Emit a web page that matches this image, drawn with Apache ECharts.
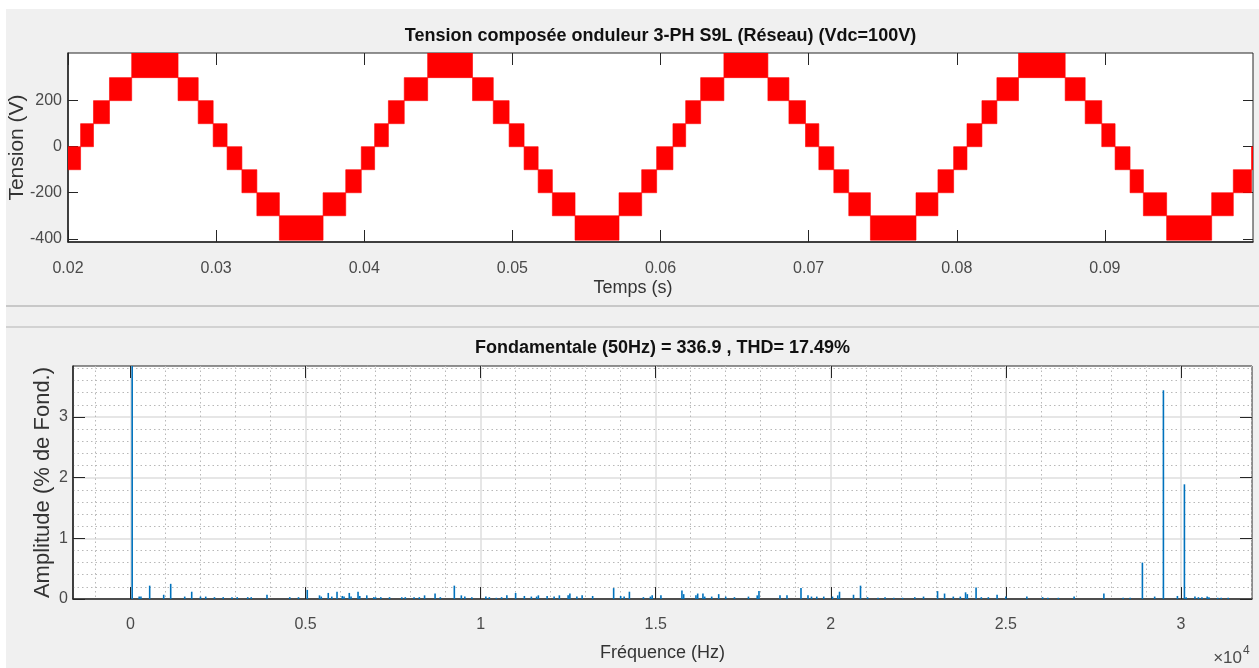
<!DOCTYPE html>
<html>
<head>
<meta charset="utf-8">
<script src="https://cdn.jsdelivr.net/npm/echarts@6/dist/echarts.min.js"></script>
<style>
html,body{margin:0;padding:0;background:#ffffff;}
#bg{position:absolute;left:6px;top:9px;width:1253px;height:659px;background:#f0f0f0;}
#chart{position:absolute;left:0;top:0;width:1259px;height:668px;}
</style>
</head>
<body>
<div id="bg"></div>
<div id="chart"></div>
<script>
// ---------- Top panel: line-to-line voltage, staircase bands (start, end, low level, high level) ----------
const stepStart = [0.0200,0.02085,0.02172,0.0228,0.0243,0.02743,0.02879,0.0298,0.03074,0.03174,
  0.03275,0.03427,0.03722,0.03875,0.0398,0.0407,0.04163,0.0427,0.04428,0.04731,
  0.04871,0.04978,0.05079,0.05174,0.0527,0.05423,0.0572,0.05873,0.05974,0.06084,
  0.0617,0.06271,0.06428,0.06725,0.06867,0.06979,0.07069,0.0717,0.07271,0.07417,
  0.07725,0.07873,0.07979,0.08069,0.0817,0.08271,0.08417,0.08732,0.08867,0.08979,
  0.09069,0.0917,0.0926,0.09417,0.09721,0.09867,0.0999];
const stepEnd = [0.02085,0.02172,0.0228,0.0243,0.02743,0.02879,0.0298,0.03074,0.03174,0.03275,
  0.03427,0.03722,0.03875,0.0398,0.0407,0.04163,0.0427,0.04428,0.04731,0.04871,
  0.04978,0.05079,0.05174,0.0527,0.05423,0.0572,0.05873,0.05974,0.06084,0.0617,
  0.06271,0.06428,0.06725,0.06867,0.06979,0.07069,0.0717,0.07271,0.07417,0.07725,
  0.07873,0.07979,0.08069,0.0817,0.08271,0.08417,0.08732,0.08867,0.08979,0.09069,
  0.0917,0.0926,0.09417,0.09721,0.09867,0.0999,0.1];
const stepLow = [-100,0,100,200,300,200,100,0,-100,-200,-300,-406,
  -300,-200,-100,0,100,200,300,200,100,0,-100,-200,
  -300,-406,-300,-200,-100,0,100,200,300,200,100,0,
  -100,-200,-300,-406,-300,-200,-100,0,100,200,300,200,
  100,0,-100,-200,-300,-406,-300,-200,-100];
const stepHigh = [0,100,200,300,407,300,200,100,0,-100,-200,-300,
  -200,-100,0,100,200,300,407,300,200,100,0,-100,
  -200,-300,-200,-100,0,100,200,300,407,300,200,100,
  0,-100,-200,-300,-200,-100,0,100,200,300,407,300,
  200,100,0,-100,-200,-300,-200,-100,0];

const timeTicks = [0.02,0.03,0.04,0.05,0.06,0.07,0.08,0.09];
const timeTickLabels = ['0.02','0.03','0.04','0.05','0.06','0.07','0.08','0.09'];
const tensionTicks = [-400,-200,0,200];
const tensionTickLabels = ['-400','-200','0','200'];

// ---------- Bottom panel: harmonic spectrum (Hz, % of fundamental) ----------
const spectrumFreq = [50,250,300,550,950,1150,1550,1750,2000,2150,2400,2650,2900,3050,3350,3450,3900,4550,4800,
  5050,5400,5450,5650,5750,5900,6050,6100,6250,6300,6500,6550,6750,6950,7000,7150,7400,7750,7850,8100,8250,8400,
  8700,8850,9250,9450,9550,9750,10150,10250,10450,10600,10750,11000,11250,11450,11600,11650,11900,12100,12250,
  12500,12550,12750,12900,13200,13800,14000,14100,14250,14650,14850,14900,15150,15750,15800,16150,16200,16350,
  16400,16600,16800,17000,17250,17650,17900,17950,18550,18750,19150,19350,19450,19600,19800,20050,20200,20250,
  20650,20850,21050,21350,21550,21800,22050,22400,22650,23050,23250,23500,23700,23850,23900,24150,24300,24500,
  24750,25000,25600,26050,26200,26500,26950,27800,28350,28550,28900,29250,29500,29900,30100,30150,30400,30500,
  30600,30750,30800,31050,31150,31350];
const spectrumAmp = [100,0.04,0.04,0.22,0.07,0.25,0.04,0.12,0.04,0.04,0.03,0.03,0.03,0.03,0.03,0.03,0.07,0.03,0.03,
  0.15,0.06,0.04,0.10,0.04,0.12,0.05,0.04,0.10,0.04,0.12,0.05,0.06,0.03,0.03,0.03,0.03,0.03,0.03,0.03,0.03,0.06,
  0.09,0.03,0.22,0.06,0.04,0.03,0.04,0.03,0.02,0.03,0.06,0.10,0.05,0.04,0.04,0.06,0.05,0.04,0.06,
  0.06,0.09,0.04,0.06,0.05,0.18,0.05,0.04,0.12,0.03,0.04,0.06,0.06,0.14,0.08,0.06,0.09,0.09,
  0.04,0.04,0.08,0.04,0.03,0.04,0.06,0.13,0.06,0.06,0.18,0.06,0.04,0.04,0.04,0.04,0.06,0.12,
  0.07,0.22,0.03,0.02,0.03,0.02,0.02,0.03,0.04,0.13,0.09,0.04,0.04,0.11,0.08,0.19,0.03,0.03,
  0.07,0.04,0.04,0.03,0.02,0.02,0.04,0.09,0.02,0.02,0.60,0.04,3.44,0.05,1.89,0.03,0.04,0.03,
  0.03,0.04,0.03,0.02,0.02,0.02];

const freqTicks = [0,5000,10000,15000,20000,25000,30000];
const freqTickLabels = ['0','0.5','1','1.5','2','2.5','3'];
const freqMinorTicks = [-1000,1000,2000,3000,4000,6000,7000,8000,9000,11000,12000,13000,14000,16000,17000,18000,19000,
  21000,22000,23000,24000,26000,27000,28000,29000,31000,32000];
const ampTicks = [0,1,2,3];
const ampTickLabels = ['0','1','2','3'];
const ampMinorTicks = [0.2,0.4,0.6,0.8,1.2,1.4,1.6,1.8,2.2,2.4,2.6,2.8,3.2,3.4,3.6,3.8];

// ---------- chart ----------
const FONT = "'Liberation Sans', Arial, Helvetica, sans-serif";
const AX = '#262626';
const LBL = '#4a4a4a';

function lookup(ticks, labels) {
  return function (v) {
    let best = 0, d = Infinity;
    for (let i = 0; i < ticks.length; i++) {
      const dd = Math.abs(ticks[i] - v);
      if (dd < d) { d = dd; best = i; }
    }
    return labels[best];
  };
}

const waveData = stepStart.map((s, i) => [s, stepEnd[i], stepLow[i], stepHigh[i]]);
const specData = spectrumFreq.map((f, i) => [f, spectrumAmp[i]]);

function baseAxis(extra) {
  return Object.assign({
    type: 'value',
    axisLine: { show: false, onZero: false },
    splitLine: { show: false },
    axisLabel: { show: false },
    axisTick: { show: false },
    nameMoveOverlap: false
  }, extra);
}

const option = {
  animation: false,
  backgroundColor: 'transparent',
  title: [
    {
      text: 'Tension composée onduleur 3-PH S9L (Réseau) (Vdc=100V)',
      left: 660.5, top: 27, textAlign: 'center', padding: 0,
      textStyle: { fontFamily: FONT, fontSize: 18, fontWeight: 'bold', color: '#111' }
    },
    {
      text: 'Fondamentale (50Hz) = 336.9 , THD= 17.49%',
      left: 662.5, top: 339, textAlign: 'center', padding: 0,
      textStyle: { fontFamily: FONT, fontSize: 18, fontWeight: 'bold', color: '#111' }
    }
  ],
  grid: [
    { left: 68, right: 6, top: 53, bottom: 426, show: true, backgroundColor: '#ffffff',
      borderColor: AX, borderWidth: 1, outerBoundsMode: 'none', containLabel: false },
    { left: 73, right: 7, top: 366, bottom: 69, show: true, backgroundColor: '#ffffff',
      borderColor: AX, borderWidth: 1, outerBoundsMode: 'none', containLabel: false }
  ],
  xAxis: [
    baseAxis({
      gridIndex: 0, min: 0.02, max: 0.1, position: 'bottom',
      axisLine: { show: true, onZero: false, lineStyle: { color: AX, width: 1.5 } },
      axisTick: { show: true, inside: true, length: 12, customValues: timeTicks, lineStyle: { color: AX, width: 1 } },
      axisLabel: { show: true, customValues: timeTicks, formatter: lookup(timeTicks, timeTickLabels),
        margin: 19, color: LBL, fontSize: 16, fontFamily: FONT },
      name: 'Temps (s)', nameLocation: 'middle', nameGap: 37,
      nameTextStyle: { fontFamily: FONT, fontSize: 18, color: '#333', padding: [0, 55, 0, 0] }
    }),
    baseAxis({
      gridIndex: 0, min: 0.02, max: 0.1, position: 'top',
      axisTick: { show: true, inside: true, length: 12, customValues: timeTicks, lineStyle: { color: AX, width: 1 } }
    }),
    baseAxis({
      gridIndex: 1, min: -1640, max: 32030, position: 'bottom',
      axisLine: { show: true, onZero: false, lineStyle: { color: AX, width: 1.5 } },
      axisTick: { show: true, inside: true, length: 12, customValues: freqTicks, lineStyle: { color: AX, width: 1 } },
      axisLabel: { show: true, customValues: freqTicks, formatter: lookup(freqTicks, freqTickLabels),
        margin: 18, color: LBL, fontSize: 16, fontFamily: FONT },
      splitLine: { show: true, lineStyle: { color: '#dedede', width: 1.5, type: 'solid' } },
      name: 'Fréquence (Hz)', nameLocation: 'middle', nameGap: 45,
      nameTextStyle: { fontFamily: FONT, fontSize: 18, color: '#333' }
    }),
    baseAxis({
      gridIndex: 1, min: -1640, max: 32030, position: 'top',
      axisTick: { show: true, inside: true, length: 12, customValues: freqTicks, lineStyle: { color: AX, width: 1 } }
    }),
    baseAxis({
      gridIndex: 1, min: -1640, max: 32030, position: 'top',
      axisTick: { show: false, customValues: freqMinorTicks },
      splitLine: { show: true, lineStyle: { color: '#b8b8b8', width: 1, type: [1.5, 3] } }
    })
  ],
  yAxis: [
    baseAxis({
      gridIndex: 0, min: -414, max: 407, position: 'left',
      axisLine: { show: true, onZero: false, lineStyle: { color: AX, width: 1.5 } },
      axisTick: { show: true, inside: true, length: 10, customValues: tensionTicks, lineStyle: { color: AX, width: 1 } },
      axisLabel: { show: true, customValues: tensionTicks, formatter: lookup(tensionTicks, tensionTickLabels),
        margin: 6, color: LBL, fontSize: 16, fontFamily: FONT },
      name: 'Tension (V)', nameLocation: 'middle', nameGap: 40, nameRotate: 90,
      nameTextStyle: { fontFamily: FONT, fontSize: 21, color: '#333' }
    }),
    baseAxis({
      gridIndex: 0, min: -414, max: 407, position: 'right',
      axisTick: { show: true, inside: true, length: 10, customValues: tensionTicks, lineStyle: { color: AX, width: 1 } }
    }),
    baseAxis({
      gridIndex: 1, min: 0, max: 3.84, position: 'left',
      axisLine: { show: true, onZero: false, lineStyle: { color: AX, width: 1.5 } },
      axisTick: { show: true, inside: true, length: 12, customValues: ampTicks, lineStyle: { color: AX, width: 1 } },
      axisLabel: { show: true, customValues: ampTicks, formatter: lookup(ampTicks, ampTickLabels),
        margin: 5, color: LBL, fontSize: 16, fontFamily: FONT },
      splitLine: { show: true, lineStyle: { color: '#dedede', width: 1.5, type: 'solid' } },
      name: 'Amplitude (% de Fond.)', nameLocation: 'middle', nameGap: 19, nameRotate: 90,
      nameTextStyle: { fontFamily: FONT, fontSize: 22, color: '#333' }
    }),
    baseAxis({
      gridIndex: 1, min: 0, max: 3.84, position: 'right',
      axisTick: { show: true, inside: true, length: 12, customValues: ampTicks, lineStyle: { color: AX, width: 1 } }
    }),
    baseAxis({
      gridIndex: 1, min: 0, max: 3.84, position: 'right',
      axisTick: { show: false, customValues: ampMinorTicks },
      splitLine: { show: true, lineStyle: { color: '#b8b8b8', width: 1, type: [1.5, 3] } }
    })
  ],
  series: [
    {
      type: 'custom',
      name: 'Tension composée',
      xAxisIndex: 0, yAxisIndex: 0,
      clip: true,
      encode: { x: [0, 1], y: [2, 3] },
      data: waveData,
      renderItem: function (params, api) {
        const p0 = api.coord([api.value(0), api.value(3)]);
        const p1 = api.coord([api.value(1), api.value(2)]);
        return {
          type: 'rect',
          shape: { x: p0[0], y: p0[1], width: p1[0] - p0[0], height: p1[1] - p0[1] },
          style: { fill: '#ff0000', stroke: '#ff0000', lineWidth: 0.6 }
        };
      },
      z: 3
    },
    {
      type: 'bar',
      name: 'Spectre',
      xAxisIndex: 2, yAxisIndex: 2,
      data: specData,
      barWidth: 1.6,
      clip: true,
      itemStyle: { color: '#0072BD' },
      z: 3
    }
  ],
  graphic: [
    { type: 'line', silent: true, shape: { x1: 6, y1: 306, x2: 1259, y2: 306 }, style: { stroke: '#c8c8c8', lineWidth: 2 } },
    { type: 'line', silent: true, shape: { x1: 6, y1: 327, x2: 1259, y2: 327 }, style: { stroke: '#c8c8c8', lineWidth: 1.5 } },
    { type: 'text', silent: true, x: 1242, y: 658,
      style: { text: '×10', fill: LBL, font: '17px ' + FONT, textAlign: 'right', textVerticalAlign: 'middle' } },
    { type: 'text', silent: true, x: 1243, y: 651,
      style: { text: '4', fill: LBL, font: '12px ' + FONT, textAlign: 'left', textVerticalAlign: 'middle' } }
  ]
};

const chart = echarts.init(document.getElementById('chart'), null, { renderer: 'canvas' });
chart.setOption(option);
</script>
</body>
</html>
